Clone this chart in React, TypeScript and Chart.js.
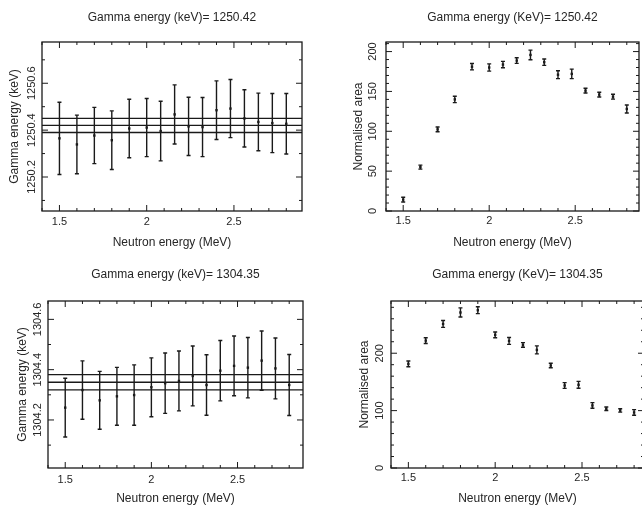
import React, { useEffect, useRef } from 'react';
import { Chart, registerables } from 'chart.js';

Chart.register(...registerables);

// ---------- data ----------
const neutronEnergy = [1.5, 1.6, 1.7, 1.8, 1.9, 2.0, 2.08, 2.16, 2.24, 2.32, 2.4, 2.48, 2.56, 2.64, 2.72, 2.8];

const gamma1250 = [1250.365, 1250.339, 1250.377, 1250.357, 1250.407, 1250.411, 1250.396, 1250.467, 1250.416, 1250.413, 1250.485, 1250.492, 1250.45, 1250.435, 1250.43, 1250.427];
const gamma1250Err = [0.154, 0.125, 0.12, 0.125, 0.125, 0.124, 0.127, 0.126, 0.124, 0.126, 0.125, 0.124, 0.122, 0.123, 0.126, 0.129];
const gamma1250Mean = 1250.42;
const gamma1250MeanErr = 0.03;

const area1250 = [14.3, 55, 102.4, 140, 181, 180, 183.7, 188.7, 195.8, 186.7, 171, 172, 151, 146, 143.4, 128];
const area1250Err = [3, 2.5, 3, 4, 4, 4.5, 4, 3.5, 6, 4, 5, 6, 3, 3, 3, 5];

const gamma1304 = [1304.249, 1304.319, 1304.278, 1304.294, 1304.299, 1304.33, 1304.346, 1304.355, 1304.375, 1304.339, 1304.396, 1304.415, 1304.408, 1304.436, 1304.405, 1304.339];
const gamma1304Err = [0.117, 0.116, 0.115, 0.115, 0.12, 0.117, 0.12, 0.119, 0.119, 0.12, 0.12, 0.119, 0.12, 0.118, 0.121, 0.121];
const gamma1304Mean = 1304.35;
const gamma1304MeanErr = 0.03;

const area1304 = [181.4, 222, 251, 271, 275, 232, 221.4, 214.5, 205.8, 178.6, 143.8, 145, 109, 103.2, 100.3, 96.8];
const area1304Err = [5, 5, 6, 8, 6, 5, 6, 4, 7, 4, 5, 6, 5, 3, 3, 5];

// tick labels
const xMajorTicks = [1.5, 2, 2.5];
const xTickLabels = ['1.5', '2', '2.5'];
const gamma1250Ticks = [1250.2, 1250.4, 1250.6];
const gamma1250TickLabels = ['1250.2', '1250.4', '1250.6'];
const area1250Ticks = [0, 50, 100, 150, 200];
const area1250TickLabels = ['0', '50', '100', '150', '200'];
const gamma1304Ticks = [1304.2, 1304.4, 1304.6];
const gamma1304TickLabels = ['1304.2', '1304.4', '1304.6'];
const area1304Ticks = [0, 100, 200];
const area1304TickLabels = ['0', '100', '200'];

const panelTitles = [
  'Gamma energy (keV)= 1250.42',
  'Gamma energy (KeV)= 1250.42',
  'Gamma energy (keV)= 1304.35',
  'Gamma energy (KeV)= 1304.35',
];
const xAxisTitle = 'Neutron energy (MeV)';
const gammaAxisTitle = 'Gamma energy (keV)';
const areaAxisTitle = 'Normalised area';

// ---------- style ----------
const FONT = "'Liberation Sans', Arial, sans-serif";
const INK = '#1a1a1a';
const TEXT = '#262626';

type PanelCfg = {
  left: number; top: number; w: number; h: number;
  title: string; titlePadTop: number; titlePadBottom: number;
  yWidth: number; yTitle: string; yTitlePad: number; yLabelOffset: number;
  xHeight: number; xTickPad: number; xTitlePadBottom: number;
  padRight: number;
  xMin: number; xMax: number; xStep: number;
  yMin: number; yMax: number; yStep: number;
  yMajor: number[]; yMajorLabels: string[];
  values: number[]; errors: number[];
  mean?: number; meanErr?: number;
  cap: number;
};

function near(a: number, b: number, tol: number) {
  return Math.abs(a - b) < tol;
}

function framePlugin(p: PanelCfg) {
  return {
    id: 'pgframe',
    beforeDatasetsDraw(chart: any) {
      const ctx = chart.ctx;
      const xs = chart.scales.x;
      const ys = chart.scales.y;
      ctx.save();
      ctx.strokeStyle = INK;
      ctx.lineWidth = 1.4;
      neutronEnergy.forEach((xv, i) => {
        const px = xs.getPixelForValue(xv);
        const yt = ys.getPixelForValue(p.values[i] + p.errors[i]);
        const yb = ys.getPixelForValue(p.values[i] - p.errors[i]);
        ctx.beginPath();
        ctx.moveTo(px, yt);
        ctx.lineTo(px, yb);
        ctx.moveTo(px - p.cap, yt);
        ctx.lineTo(px + p.cap, yt);
        ctx.moveTo(px - p.cap, yb);
        ctx.lineTo(px + p.cap, yb);
        ctx.stroke();
      });
      ctx.restore();
    },
    afterDraw(chart: any) {
      const ctx = chart.ctx;
      const a = chart.chartArea;
      const xs = chart.scales.x;
      const ys = chart.scales.y;
      ctx.save();
      ctx.strokeStyle = INK;
      ctx.lineWidth = 1.3;
      ctx.strokeRect(a.left, a.top, a.right - a.left, a.bottom - a.top);
      ctx.lineWidth = 1;
      ctx.beginPath();
      xs.ticks.forEach((t: any) => {
        const v = t.value;
        if (v < p.xMin - 1e-9 || v > p.xMax + 1e-9) return;
        const px = xs.getPixelForValue(v);
        const major = xMajorTicks.some((m) => near(m, v, 1e-6));
        const len = major ? 6 : 3;
        ctx.moveTo(px, a.bottom);
        ctx.lineTo(px, a.bottom - len);
        ctx.moveTo(px, a.top);
        ctx.lineTo(px, a.top + len);
      });
      ys.ticks.forEach((t: any) => {
        const v = t.value;
        if (v < p.yMin - 1e-9 || v > p.yMax + 1e-9) return;
        const py = ys.getPixelForValue(v);
        const major = p.yMajor.some((m) => near(m, v, 1e-6));
        const len = major ? 6 : 3;
        ctx.moveTo(a.left, py);
        ctx.lineTo(a.left + len, py);
        ctx.moveTo(a.right, py);
        ctx.lineTo(a.right - len, py);
      });
      ctx.stroke();
      // rotated y tick labels
      ctx.fillStyle = TEXT;
      ctx.font = `11px ${FONT}`;
      ctx.textAlign = 'center';
      ctx.textBaseline = 'middle';
      p.yMajor.forEach((m, i) => {
        const py = ys.getPixelForValue(m);
        ctx.save();
        ctx.translate(a.left - p.yLabelOffset, py);
        ctx.rotate(-Math.PI / 2);
        ctx.fillText(p.yMajorLabels[i], 0, 0);
        ctx.restore();
      });
      ctx.restore();
    },
  };
}

function buildConfig(p: PanelCfg): any {
  const pts = neutronEnergy.map((x, i) => ({ x, y: p.values[i] }));
  const datasets: any[] = [
    {
      data: pts,
      pointStyle: 'rect',
      pointRadius: 1.7,
      pointBackgroundColor: INK,
      pointBorderWidth: 0,
      showLine: false,
    },
  ];
  if (p.mean !== undefined && p.meanErr !== undefined) {
    [p.mean + p.meanErr, p.mean, p.mean - p.meanErr].forEach((v) => {
      datasets.push({
        data: [{ x: p.xMin, y: v }, { x: p.xMax, y: v }],
        showLine: true,
        borderColor: INK,
        borderWidth: 1.3,
        pointRadius: 0,
      });
    });
  }
  return {
    type: 'scatter',
    data: { datasets },
    options: {
      animation: false,
      responsive: false,
      devicePixelRatio: 1,
      events: [],
      layout: { padding: { left: 0, right: p.padRight, top: 0, bottom: 0 } },
      plugins: {
        legend: { display: false },
        tooltip: { enabled: false },
        title: {
          display: true,
          text: p.title,
          fullSize: false,
          color: TEXT,
          font: { family: FONT, size: 12, weight: 'normal', lineHeight: '14px' },
          padding: { top: p.titlePadTop, bottom: p.titlePadBottom },
        },
      },
      scales: {
        x: {
          type: 'linear',
          min: p.xMin,
          max: p.xMax,
          grid: { display: false, drawTicks: false },
          border: { display: false },
          ticks: {
            stepSize: p.xStep,
            includeBounds: false,
            autoSkip: false,
            maxRotation: 0,
            minRotation: 0,
            padding: p.xTickPad,
            color: TEXT,
            font: { family: FONT, size: 11, lineHeight: '14px' },
            callback: (value: number) => {
              const i = xMajorTicks.findIndex((m) => near(m, value, 1e-6));
              return i >= 0 ? xTickLabels[i] : '';
            },
          },
          title: {
            display: true,
            text: xAxisTitle,
            color: TEXT,
            font: { family: FONT, size: 12, lineHeight: '14px' },
            padding: { top: 0, bottom: p.xTitlePadBottom },
          },
          afterFit: (s: any) => {
            s.height = p.xHeight;
          },
        },
        y: {
          type: 'linear',
          min: p.yMin,
          max: p.yMax,
          grid: { display: false, drawTicks: false },
          border: { display: false },
          ticks: { display: false, stepSize: p.yStep, includeBounds: false },
          title: {
            display: true,
            text: p.yTitle,
            color: TEXT,
            font: { family: FONT, size: 12, lineHeight: '14px' },
            padding: { top: p.yTitlePad, bottom: 0 },
          },
          afterFit: (s: any) => {
            s.width = p.yWidth;
          },
        },
      },
    },
    plugins: [framePlugin(p)],
  };
}

const panels: PanelCfg[] = [
  {
    left: 0, top: 0, w: 321, h: 253,
    title: panelTitles[0], titlePadTop: 11, titlePadBottom: 17,
    yWidth: 42, yTitle: gammaAxisTitle, yTitlePad: 8, yLabelOffset: 10,
    xHeight: 42, xTickPad: 4, xTitlePadBottom: 3,
    padRight: 19,
    xMin: 1.4, xMax: 2.89, xStep: 0.1,
    yMin: 1250.055, yMax: 1250.776, yStep: 0.1,
    yMajor: gamma1250Ticks, yMajorLabels: gamma1250TickLabels,
    values: gamma1250, errors: gamma1250Err,
    mean: gamma1250Mean, meanErr: gamma1250MeanErr,
    cap: 2,
  },
  {
    left: 321, top: 0, w: 322, h: 253,
    title: panelTitles[1], titlePadTop: 11, titlePadBottom: 17,
    yWidth: 65, yTitle: areaAxisTitle, yTitlePad: 31, yLabelOffset: 13,
    xHeight: 42, xTickPad: 3, xTitlePadBottom: 3,
    padRight: 1.5,
    xMin: 1.4, xMax: 2.871, xStep: 0.1,
    yMin: 0, yMax: 212, yStep: 10,
    yMajor: area1250Ticks, yMajorLabels: area1250TickLabels,
    values: area1250, errors: area1250Err,
    cap: 2,
  },
  {
    left: 0, top: 253, w: 321, h: 253,
    title: panelTitles[2], titlePadTop: 15, titlePadBottom: 19,
    yWidth: 48, yTitle: gammaAxisTitle, yTitlePad: 16, yLabelOffset: 10,
    xHeight: 38, xTickPad: 5, xTitlePadBottom: 0,
    padRight: 18,
    xMin: 1.4, xMax: 2.88, xStep: 0.1,
    yMin: 1304.009, yMax: 1304.673, yStep: 0.1,
    yMajor: gamma1304Ticks, yMajorLabels: gamma1304TickLabels,
    values: gamma1304, errors: gamma1304Err,
    mean: gamma1304Mean, meanErr: gamma1304MeanErr,
    cap: 2,
  },
  {
    left: 321, top: 253, w: 330, h: 253,
    title: panelTitles[3], titlePadTop: 15, titlePadBottom: 19,
    yWidth: 70, yTitle: areaAxisTitle, yTitlePad: 37, yLabelOffset: 11,
    xHeight: 38, xTickPad: 3, xTitlePadBottom: 0,
    padRight: 7,
    xMin: 1.4, xMax: 2.857, xStep: 0.1,
    yMin: 0, yMax: 291, yStep: 20,
    yMajor: area1304Ticks, yMajorLabels: area1304TickLabels,
    values: area1304, errors: area1304Err,
    cap: 2,
  },
];

function Panel({ cfg }: { cfg: PanelCfg }) {
  const ref = useRef<HTMLCanvasElement>(null);
  useEffect(() => {
    if (!ref.current) return;
    const chart = new Chart(ref.current, buildConfig(cfg));
    return () => chart.destroy();
  }, [cfg]);
  return (
    <canvas
      ref={ref}
      width={cfg.w}
      height={cfg.h}
      style={{ position: 'absolute', left: cfg.left, top: cfg.top, width: cfg.w, height: cfg.h, display: 'block' }}
    />
  );
}

export default function App() {
  return (
    <div
      style={{
        position: 'fixed',
        left: 0,
        top: 0,
        width: 642,
        height: 506,
        overflow: 'hidden',
        background: '#ffffff',
      }}
    >
      {panels.map((p, i) => (
        <Panel key={i} cfg={p} />
      ))}
    </div>
  );
}
